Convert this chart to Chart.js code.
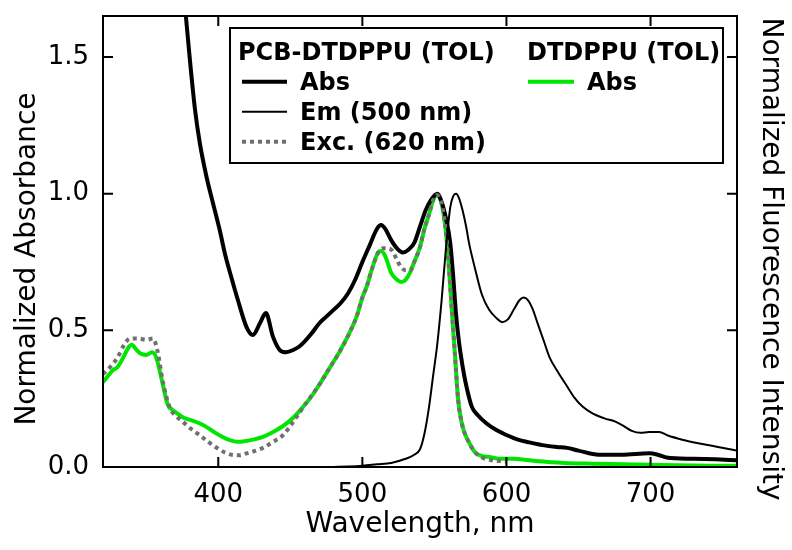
<!DOCTYPE html>
<html>
<head>
<meta charset="utf-8">
<script src="https://cdn.jsdelivr.net/npm/chart.js@4"></script>
<style>
    html, body { margin: 0; padding: 0; background: #ffffff; }
</style>
</head>
<body>
<canvas id="spectraChart" width="792" height="550"></canvas>
<script>
// Datos (longitud de onda en nm, valores normalizados)
const wlAbsPCB = [376, 377.5, 380.3, 383.8, 387.2, 391.9, 396.3, 401, 404.5, 409, 413.6, 419.6, 424, 429, 433, 438, 442.7, 447, 452, 456, 460, 465, 470, 475, 480, 485, 490, 495, 500, 505, 510, 513, 516, 520, 524, 528, 532, 536, 540, 544, 548, 552, 555, 558, 561, 563, 565, 567, 569.5, 572, 576, 580, 586, 593, 600, 608, 616, 625, 635, 642, 650, 664, 680, 699, 705, 711, 730, 745, 760];
const absPCB = [1.74, 1.65, 1.49, 1.31, 1.185, 1.06, 0.966, 0.867, 0.783, 0.695, 0.611, 0.512, 0.483, 0.527, 0.563, 0.476, 0.428, 0.42, 0.428, 0.44, 0.46, 0.49, 0.525, 0.55, 0.575, 0.60, 0.635, 0.685, 0.75, 0.81, 0.87, 0.885, 0.87, 0.83, 0.80, 0.785, 0.795, 0.82, 0.88, 0.94, 0.98, 1.0, 0.97, 0.91, 0.82, 0.70, 0.56, 0.46, 0.37, 0.30, 0.22, 0.19, 0.16, 0.135, 0.117, 0.10, 0.09, 0.08, 0.073, 0.07, 0.06, 0.045, 0.045, 0.05, 0.045, 0.035, 0.03, 0.028, 0.025];

const wlEmPCB = [480, 490, 500, 510, 520, 530, 536, 540, 543, 546, 549, 552, 555, 558, 561, 563, 565, 567, 569.5, 572, 574, 578, 583, 588, 593, 597, 601, 605, 609, 612, 615, 618, 622, 626, 630, 636, 641.5, 647, 653, 660, 668, 676, 682, 687, 693, 699, 706, 712, 722, 735, 745, 757, 760];
const emPCB = [0.0, 0.002, 0.005, 0.01, 0.015, 0.03, 0.045, 0.065, 0.12, 0.21, 0.33, 0.45, 0.61, 0.80, 0.95, 0.99, 1.0, 0.985, 0.94, 0.88, 0.82, 0.73, 0.63, 0.575, 0.545, 0.53, 0.54, 0.575, 0.61, 0.62, 0.61, 0.58, 0.52, 0.46, 0.40, 0.345, 0.30, 0.255, 0.22, 0.195, 0.178, 0.165, 0.148, 0.132, 0.125, 0.128, 0.128, 0.115, 0.10, 0.085, 0.075, 0.063, 0.06];

const wlExcPCB = [320, 325, 330, 335, 338.7, 345, 350, 354.7, 358, 361.6, 366.5, 371, 375.5, 381, 387, 393, 399, 405, 410, 415, 419.7, 425, 431, 438, 445, 452, 456.5, 461, 466, 470, 477, 484, 491, 496, 500, 503, 507, 511, 514, 518, 521, 524, 527, 530, 533, 536, 540, 543, 546.6, 549, 551.5, 553, 555.6, 559, 562, 564, 566.5, 569, 571, 574, 578, 583, 590, 600];
const excPCB = [0.34, 0.366, 0.40, 0.45, 0.47, 0.47, 0.465, 0.47, 0.42, 0.31, 0.216, 0.185, 0.165, 0.14, 0.117, 0.092, 0.07, 0.052, 0.044, 0.043, 0.05, 0.058, 0.07, 0.092, 0.117, 0.165, 0.20, 0.234, 0.27, 0.30, 0.36, 0.42, 0.49, 0.55, 0.62, 0.66, 0.73, 0.785, 0.80, 0.80, 0.79, 0.757, 0.73, 0.72, 0.72, 0.75, 0.805, 0.87, 0.93, 0.975, 0.995, 0.99, 0.95, 0.805, 0.58, 0.43, 0.245, 0.16, 0.124, 0.09, 0.055, 0.035, 0.025, 0.02];

const wlAbsDT = [320, 323, 327, 330, 334, 338, 340, 343, 346, 350, 354, 357, 359, 361.6, 365, 368, 371, 376, 382, 387, 392, 398, 403, 408, 413, 418, 424, 431, 438, 445, 452, 458, 463.5, 470, 477, 484, 491, 496, 500, 503, 507, 511, 513, 516, 520, 524, 527, 530, 533, 536, 540, 543, 546.6, 549, 551.5, 553, 555.6, 559, 562, 564, 566.5, 569, 571, 574, 578, 583, 588, 595, 604, 620, 640, 660, 680, 700, 720, 740, 760];
const absDT = [0.31, 0.33, 0.355, 0.365, 0.40, 0.44, 0.447, 0.43, 0.415, 0.41, 0.42, 0.40, 0.36, 0.30, 0.227, 0.21, 0.198, 0.18, 0.17, 0.16, 0.146, 0.125, 0.11, 0.098, 0.092, 0.094, 0.10, 0.11, 0.128, 0.15, 0.18, 0.215, 0.25, 0.30, 0.36, 0.42, 0.49, 0.55, 0.62, 0.66, 0.73, 0.785, 0.79, 0.77, 0.71, 0.685, 0.677, 0.685, 0.71, 0.75, 0.805, 0.87, 0.93, 0.975, 0.995, 0.99, 0.95, 0.805, 0.58, 0.43, 0.245, 0.16, 0.124, 0.09, 0.055, 0.04, 0.037, 0.03, 0.03, 0.022, 0.015, 0.012, 0.01, 0.008, 0.006, 0.005, 0.005];

const xTicks = [400, 500, 600, 700];
const yTicks = [0.0, 0.5, 1.0, 1.5];
const legendGroups = ['PCB-DTDPPU (TOL)', 'DTDPPU (TOL)'];

const FONT = 'DejaVu Sans';
const toPoints = (xs, ys) => xs.map((x, i) => ({ x: x, y: ys[i] }));

// Marco, marcas hacia adentro, titulos de ejes Y y leyenda
const framePlugin = {
    id: 'framePlugin',
    afterDraw(chart) {
        const ctx = chart.ctx;
        const area = chart.chartArea;
        const xs = chart.scales.x;
        const ys = chart.scales.y;
        const tick = 10;

        ctx.save();
        ctx.strokeStyle = '#000';
        ctx.lineWidth = 2;
        ctx.strokeRect(area.left, area.top, area.right - area.left, area.bottom - area.top);

        ctx.beginPath();
        xs.ticks.forEach(t => {
            const px = xs.getPixelForValue(t.value);
            ctx.moveTo(px, area.bottom); ctx.lineTo(px, area.bottom - tick);
            ctx.moveTo(px, area.top); ctx.lineTo(px, area.top + tick);
        });
        ys.ticks.forEach(t => {
            const py = ys.getPixelForValue(t.value);
            ctx.moveTo(area.left, py); ctx.lineTo(area.left + tick, py);
            ctx.moveTo(area.right, py); ctx.lineTo(area.right - tick, py);
        });
        ctx.stroke();

        // Titulos de los ejes Y
        ctx.fillStyle = '#000';
        ctx.font = '28px "' + FONT + '"';
        ctx.textAlign = 'center';
        ctx.textBaseline = 'alphabetic';
        ctx.save();
        ctx.translate(35, 259);
        ctx.rotate(-Math.PI / 2);
        ctx.fillText('Normalized Absorbance', 0, 0);
        ctx.restore();
        ctx.save();
        ctx.translate(763, 259);
        ctx.rotate(Math.PI / 2);
        ctx.fillText('Normalized Fluorescence Intensity', 0, 0);
        ctx.restore();

        // Leyenda
        ctx.lineWidth = 2;
        ctx.strokeRect(230, 28, 493, 135);
        ctx.font = 'bold 24px "' + FONT + '"';
        ctx.textAlign = 'left';
        const cols = [
            { title: 238, lineFrom: 242, lineTo: 287, text: 300 },
            { title: 527, lineFrom: 528, lineTo: 574, text: 587 }
        ];
        const rowY = [81.7, 111.7, 141.7];
        const rowCount = [0, 0];
        legendGroups.forEach((g, i) => ctx.fillText(g, cols[i].title, 60));
        chart.data.datasets.forEach(ds => {
            const col = cols[ds.group];
            const y = rowY[rowCount[ds.group]++];
            ctx.save();
            ctx.strokeStyle = ds.borderColor;
            ctx.lineWidth = ds.borderWidth;
            ctx.setLineDash(ds.borderDash || []);
            ctx.beginPath();
            ctx.moveTo(col.lineFrom, y);
            ctx.lineTo(col.lineTo, y);
            ctx.stroke();
            ctx.restore();
            ctx.fillText(ds.label, col.text, y + 8);
        });
        ctx.restore();
    }
};

const ctx = document.getElementById('spectraChart');

new Chart(ctx, {
    type: 'line',
    data: {
        datasets: [{
            label: 'Abs',
            group: 0,
            data: toPoints(wlAbsPCB, absPCB),
            borderColor: '#000000',
            borderWidth: 4,
            order: 2
        }, {
            label: 'Em (500 nm)',
            group: 0,
            yAxisID: 'y2',
            data: toPoints(wlEmPCB, emPCB),
            borderColor: '#000000',
            borderWidth: 2,
            order: 0
        }, {
            label: 'Exc. (620 nm)',
            group: 0,
            yAxisID: 'y2',
            data: toPoints(wlExcPCB, excPCB),
            borderColor: '#707070',
            borderWidth: 4,
            borderDash: [4, 4],
            order: 1
        }, {
            label: 'Abs',
            group: 1,
            data: toPoints(wlAbsDT, absDT),
            borderColor: '#00e600',
            borderWidth: 4,
            order: 3
        }]
    },
    options: {
        responsive: false,
        animation: false,
        elements: {
            point: { radius: 0 },
            line: { cubicInterpolationMode: 'monotone', fill: false }
        },
        layout: { padding: { top: 16, left: 0, right: 0, bottom: 0 } },
        plugins: {
            legend: { display: false },
            tooltip: { enabled: false }
        },
        scales: {
            x: {
                type: 'linear',
                position: 'bottom',
                min: 320,
                max: 760,
                afterBuildTicks: scale => { scale.ticks = xTicks.map(v => ({ value: v })); },
                afterFit: scale => {
                    scale.height = 83;
                    scale.paddingLeft = 0;
                    scale.paddingRight = 0;
                },
                grid: { display: false },
                border: { display: false },
                ticks: {
                    color: '#000',
                    padding: 5,
                    maxRotation: 0,
                    font: { family: FONT, size: 26 }
                },
                title: {
                    display: true,
                    text: 'Wavelength, nm',
                    color: '#000',
                    font: { family: FONT, size: 28 },
                    padding: { top: 0, bottom: 8 }
                }
            },
            y: {
                type: 'linear',
                position: 'left',
                min: 0,
                max: 1.65,
                afterBuildTicks: scale => { scale.ticks = yTicks.map(v => ({ value: v })); },
                afterFit: scale => {
                    scale.width = 103;
                    scale.paddingTop = 0;
                    scale.paddingBottom = 0;
                },
                grid: { display: false },
                border: { display: false },
                ticks: {
                    color: '#000',
                    padding: 6,
                    font: { family: FONT, size: 26 },
                    callback: v => Number(v).toFixed(1)
                }
            },
            y2: {
                type: 'linear',
                position: 'right',
                min: 0,
                max: 1.65,
                afterFit: scale => {
                    scale.width = 55;
                    scale.paddingTop = 0;
                    scale.paddingBottom = 0;
                },
                grid: { display: false },
                border: { display: false },
                ticks: { display: false }
            }
        }
    },
    plugins: [framePlugin]
});
</script>
</body>
</html>
